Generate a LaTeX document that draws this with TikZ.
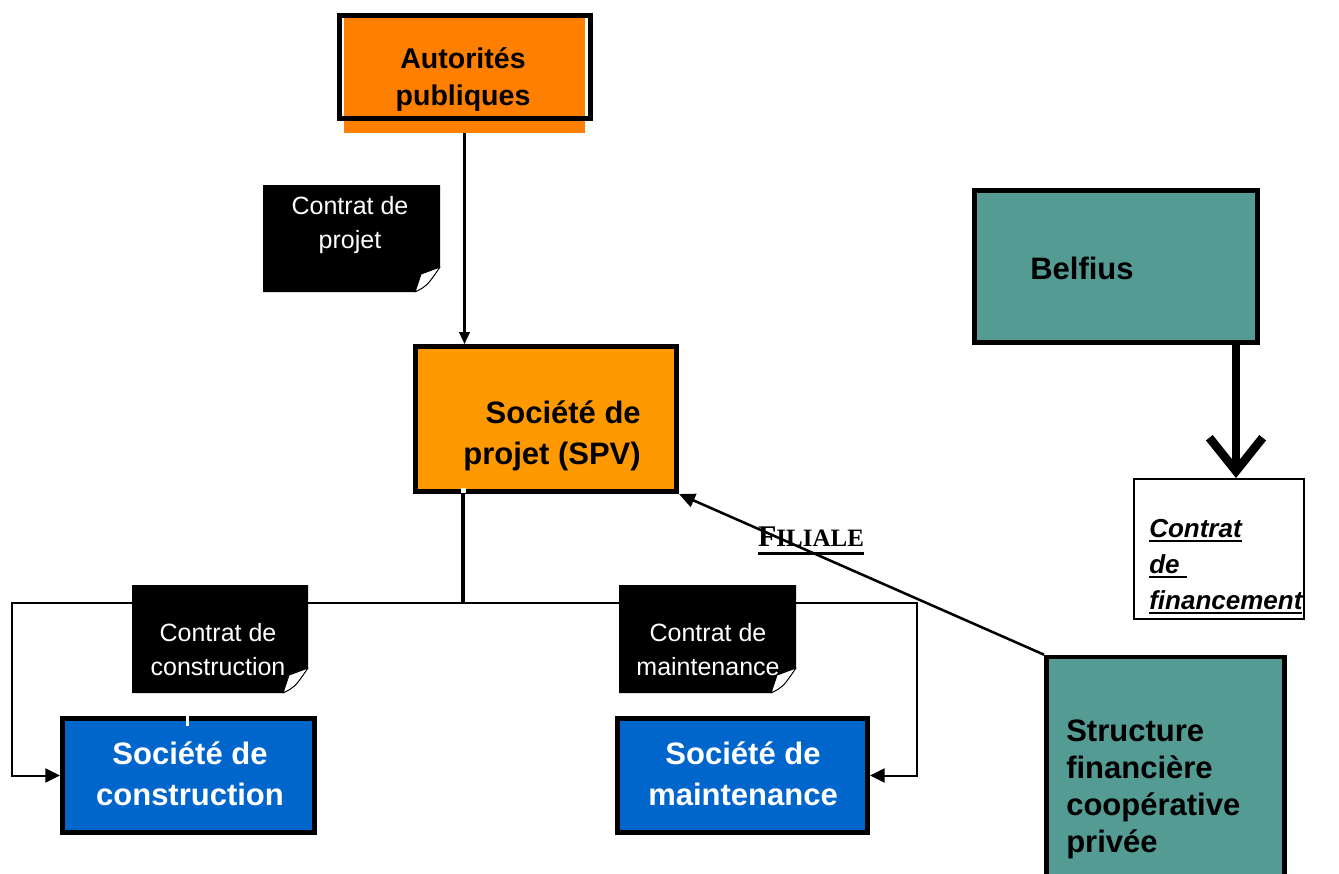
\documentclass[tikz,border=0pt]{standalone}
\usepackage{fontspec}
\setmainfont{Liberation Sans}
\newfontfamily\serifb{Liberation Serif}
\usetikzlibrary{arrows.meta,calc}
\definecolor{orangeA}{RGB}{255,128,0}
\definecolor{orangeB}{RGB}{255,153,0}
\definecolor{blueC}{RGB}{0,102,204}
\definecolor{tealD}{RGB}{83,155,147}
\newcommand\ulrule[3]{\setbox0\hbox{#3}\rlap{\rule[#1]{\wd0}{#2}}\box0}
\begin{document}
\begin{tikzpicture}[x=0.75pt,y=-0.75pt,
  box/.style={draw=black, line width=3.5pt, rectangle, inner sep=0pt},
  btxt/.style={font=\bfseries\fontsize{23.25}{30.75}\selectfont, align=center, inner sep=0pt},
  ntxt/.style={text=white, font=\fontsize{18.75}{25.5}\selectfont, align=center, inner sep=0pt},
  conn/.style={line width=1.5pt, -{Triangle[length=11pt,width=10.5pt]}},
  notebody/.style={fill=black},
  noteflap/.style={fill=white, draw=black, line width=0.75pt, line join=round}
]
\path[use as bounding box, fill=white] (0,0) rectangle (1339,874);
\clip (0,0) rectangle (1339,874);

% ---- boxes ----
\node[fill=orangeA, inner sep=0pt, minimum width=180.75pt, minimum height=88.5pt] (authshadow) at (464.5,74) {};
\node[box, minimum width=188.25pt, minimum height=77.25pt] (auth) at (465,67) {};
\node[btxt, font=\bfseries\fontsize{21.4}{27.75}\selectfont] (authtxt) at (463,79) {Autorités\\publiques};

\node[box, fill=orangeB, minimum width=196pt, minimum height=109pt] (spv) at (546,419) {};
\node[btxt, align=right, anchor=east] (spvtxt) at (641,436) {Société de\\projet (SPV)};

\node[box, fill=blueC, minimum width=189.25pt, minimum height=85.75pt] (constr) at (188.5,775.5) {};
\node[btxt, text=white] (constrtxt) at (190,774) {Société de\\construction};

\node[box, fill=blueC, minimum width=187.75pt, minimum height=85.75pt] (maint) at (742.5,775.5) {};
\node[btxt, text=white] (mainttxt) at (743,774) {Société de\\maintenance};

\node[box, fill=tealD, minimum width=212.5pt, minimum height=114.25pt] (belf) at (1116,266.5) {};
\node[btxt, anchor=west] (belftxt) at (1030,268) {Belfius};

\node[box, line width=1.5pt, fill=white, minimum width=127.5pt, minimum height=105pt] (fin) at (1219,549) {};
\node[anchor=west, align=left, inner sep=0pt, font=\bfseries\itshape\fontsize{19.5}{27}\selectfont] (fintxt) at (1149,567)
  {\ulrule{-3.5pt}{1.5pt}{Contrat}\\\ulrule{-3.5pt}{1.5pt}{de\ }\\\ulrule{-3.5pt}{1.5pt}{financement}};

\node[box, fill=tealD, minimum width=178.75pt, minimum height=182.25pt] (struct) at (1165.5,778.5) {};
\node[btxt, anchor=west, align=left, font=\bfseries\fontsize{23.25}{27.75}\selectfont] (structtxt) at (1066,789)
  {Structure\\financière\\coopérative\\privée};

% ---- connectors ----
\draw[line width=1.6pt, -{Triangle[length=9pt,width=8pt]}] (authshadow.south) -- (authshadow.south |- spv.north);

\coordinate (hub) at (463,603);
\coordinate (lc) at (12,603);
\coordinate (rc) at (917,603);
\draw[line width=3pt] (spv.south -| hub) -- (hub);
\draw[conn] (hub) -- (lc) |- (constr.west);
\draw[conn] (hub) -- (rc) |- (maint.east);

\draw[line width=1.9pt, -{Triangle[length=12pt,width=10.5pt]}] (struct.north west) -- (spv.south east);

\coordinate (bt) at (1236,478);
\draw[line width=6.5pt, -{Straight Barb[length=25pt,width=40pt]}] (belf.south -| bt) -- (bt);

% small white marks
\fill[white] (461,488) rectangle (466,493);
\draw[white, line width=2.25pt] (187,713) -- (187,726);

% ---- notes ----
\fill[notebody] (263,185) -- (440,185) -- (440,267) -- (415,292) -- (263,292) -- cycle;
\filldraw[noteflap] (440,267) -- (421,274) -- (415,292) .. controls (427,286) .. (440,267) -- cycle;
\node[ntxt] (tprojet) at (350,225) {Contrat de\\projet};

\fill[notebody] (132,585) -- (308,585) -- (308,668) -- (283,693) -- (132,693) -- cycle;
\filldraw[noteflap] (308,668) -- (289,675) -- (283,693) .. controls (295,687) .. (308,668) -- cycle;
\node[ntxt] (tconstr) at (218,650) {Contrat de\\construction};

\fill[notebody] (619,585) -- (796,585) -- (796,668) -- (771,693) -- (619,693) -- cycle;
\filldraw[noteflap] (796,668) -- (777,675) -- (771,693) .. controls (783,687) .. (796,668) -- cycle;
\node[ntxt] (tmaint) at (708,650) {Contrat de\\maintenance};

% ---- label ----
\node[inner sep=0pt, font=\serifb\bfseries] (fil) at (811,541)
  {\ulrule{-6pt}{2.25pt}{\fontsize{22.5}{24}\selectfont F\fontsize{18.75}{24}\selectfont ILIALE}};
\end{tikzpicture}
\end{document}
